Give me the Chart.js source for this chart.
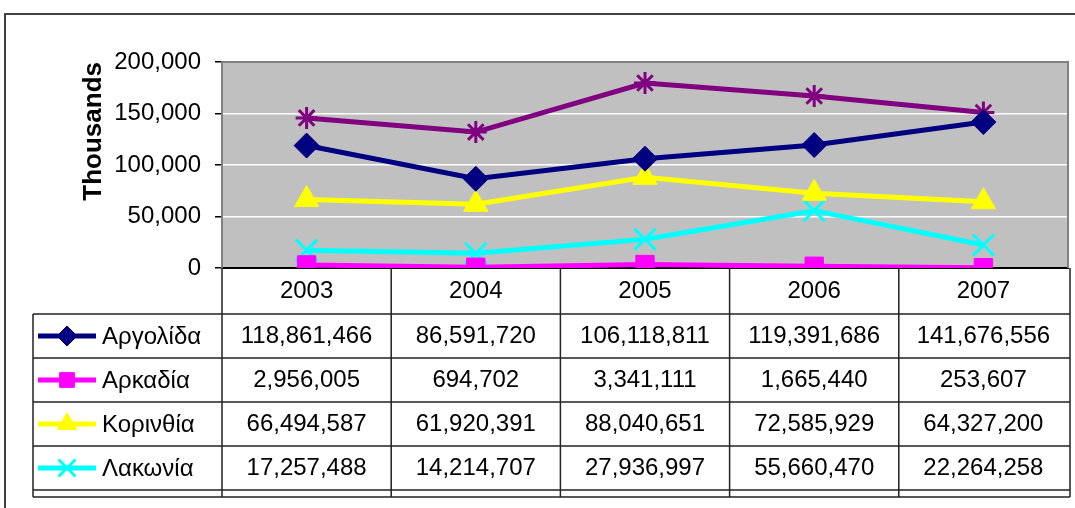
<!DOCTYPE html>
<html>
<head>
<meta charset="utf-8">
<script src="https://cdn.jsdelivr.net/npm/chart.js@4/dist/chart.umd.min.js"></script>
<style>
  html, body { margin: 0; padding: 0; background: #fff; }
</style>
</head>
<body>
<canvas id="chart" width="1075" height="508"></canvas>
<script>
const years = ['2003', '2004', '2005', '2006', '2007'];
const names = ['Αργολίδα', 'Αρκαδία', 'Κορινθία', 'Λακωνία', 'Μεσσηνία'];
const argolida = [118861466, 86591720, 106118811, 119391686, 141676556];
const arkadia = [2956005, 694702, 3341111, 1665440, 253607];
const korinthia = [66494587, 61920391, 88040651, 72585929, 64327200];
const lakonia = [17257488, 14214707, 27936997, 55660470, 22264258];
const messinia = [145700000, 132000000, 179600000, 167000000, 151000000];
const yTicks = [0, 50000, 100000, 150000, 200000];

const FONT = 'Liberation Sans, Arial, sans-serif';
const fmt = v => v.toLocaleString('en-US');

const series = [
  { label: names[0], raw: argolida, color: '#000080', style: 'rectRot', r: 12.5, bw: 1 },
  { label: names[1], raw: arkadia, color: '#ff00ff', style: 'rect', r: 13, bw: 1 },
  { label: names[2], raw: korinthia, color: '#ffff00', style: 'triangle', r: 14, bw: 1 },
  { label: names[3], raw: lakonia, color: '#00ffff', style: 'crossRot', r: 15, bw: 3 },
  { label: names[4], raw: messinia, color: '#800080', style: 'star', r: 11, bw: 3 }
];

const tablePlugin = {
  id: 'dataTable',
  beforeDraw(chart) {
    const { ctx, chartArea: a } = chart;
    ctx.save();
    ctx.fillStyle = '#c0c0c0';
    ctx.fillRect(a.left, a.top, a.right - a.left, a.bottom - a.top);
    ctx.restore();
  },
  afterDraw(chart) {
    const { ctx, chartArea: a } = chart;
    ctx.save();

    // plot area frame, top and right
    ctx.strokeStyle = '#808080';
    ctx.lineWidth = 2;
    ctx.beginPath();
    ctx.moveTo(a.left, a.top);
    ctx.lineTo(a.right, a.top);
    ctx.lineTo(a.right, a.bottom);
    ctx.stroke();

    // data table
    const colW = (a.right - a.left) / years.length;
    const tableLeft = 33, rowTop = a.bottom + 46, rowH = 44, tableBottom = 497;
    ctx.strokeStyle = '#222';
    ctx.lineWidth = 1.5;
    ctx.beginPath();
    for (let i = 0; i <= 4; i++) {
      ctx.moveTo(tableLeft, rowTop + i * rowH);
      ctx.lineTo(a.right + 2, rowTop + i * rowH);
    }
    ctx.moveTo(tableLeft, tableBottom);
    ctx.lineTo(a.right + 2, tableBottom);
    ctx.moveTo(tableLeft, rowTop);
    ctx.lineTo(tableLeft, tableBottom);
    for (let i = 0; i <= years.length; i++) {
      const x = a.left + i * colW + (i === years.length ? 2 : 0);
      ctx.moveTo(x, a.bottom);
      ctx.lineTo(x, tableBottom);
    }
    ctx.stroke();

    ctx.font = '24px ' + FONT;
    ctx.fillStyle = '#000';
    ctx.textBaseline = 'middle';
    for (let r = 0; r < 4; r++) {
      const s = series[r];
      const cy = rowTop + r * rowH + rowH / 2;
      // legend key
      ctx.strokeStyle = s.color;
      ctx.lineWidth = 5;
      ctx.beginPath();
      ctx.moveTo(38, cy);
      ctx.lineTo(96, cy);
      ctx.stroke();
      ctx.fillStyle = s.color;
      ctx.strokeStyle = s.color;
      ctx.lineWidth = s.bw;
      Chart.helpers.drawPoint(ctx, { pointStyle: s.style, radius: s.r * 0.8, borderWidth: s.bw, rotation: 0 }, 67, cy);
      ctx.fillStyle = '#000';
      ctx.textAlign = 'left';
      ctx.fillText(s.label, 102, cy + 1);
      ctx.textAlign = 'center';
      for (let c = 0; c < years.length; c++) {
        ctx.fillText(fmt(s.raw[c]), a.left + (c + 0.5) * colW, cy);
      }
    }

    // outer frame
    ctx.strokeStyle = '#404040';
    ctx.lineWidth = 2;
    ctx.strokeRect(5, 14, 1100, 600);
    ctx.restore();
  }
};

new Chart(document.getElementById('chart'), {
  type: 'line',
  data: {
    labels: years,
    datasets: series.map(s => ({
      label: s.label,
      data: s.raw.map(v => v / 1000),
      borderColor: s.color,
      backgroundColor: s.color,
      borderWidth: 5,
      pointStyle: s.style,
      pointRadius: s.r,
      pointBorderWidth: s.bw,
      fill: false,
      tension: 0
    }))
  },
  options: {
    responsive: false,
    animation: false,
    devicePixelRatio: 1,
    layout: { autoPadding: false, padding: { top: 62, right: 7, left: 0, bottom: 0 } },
    plugins: {
      legend: { display: false },
      tooltip: { enabled: false }
    },
    scales: {
      x: {
        offset: true,
        grid: { display: false, drawTicks: false },
        border: { display: true, color: '#000', width: 2 },
        ticks: { color: '#000', font: { family: FONT, size: 24 }, padding: 9 },
        afterFit: s => { s.height = 240; s.paddingLeft = 0; s.paddingRight = 0; }
      },
      y: {
        min: 0,
        max: 200000,
        afterBuildTicks: s => { s.ticks = yTicks.map(v => ({ value: v })); },
        ticks: { color: '#000', font: { family: FONT, size: 24 }, padding: 14, callback: v => fmt(v) },
        grid: {
          color: c => c.tick.value === 0 ? '#000' : (c.tick.value === 200000 ? '#808080' : '#ffffff'),
          lineWidth: 1.5,
          tickColor: '#000',
          tickLength: 7
        },
        border: { color: '#808080', width: 2 },
        title: {
          display: true,
          text: 'Thousands',
          align: 'end',
          color: '#000',
          font: { family: FONT, size: 26, weight: 'bold' },
          padding: { top: 78, bottom: 0 }
        },
        afterFit: s => { s.width = 222; s.paddingTop = 0; s.paddingBottom = 0; }
      }
    }
  },
  plugins: [tablePlugin]
});
</script>
</body>
</html>
